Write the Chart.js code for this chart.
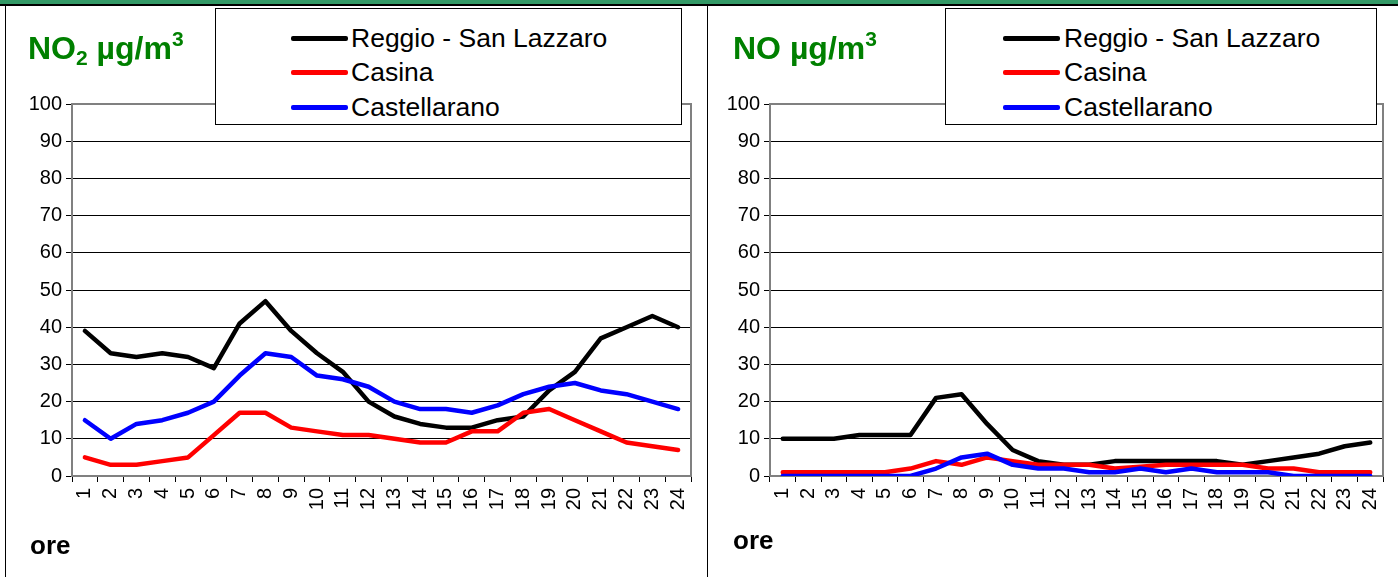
<!DOCTYPE html>
<html>
<head>
<meta charset="utf-8">
<script src="https://cdn.jsdelivr.net/npm/chart.js@4.4.1/dist/chart.umd.min.js"></script>
<style>
  html, body { margin:0; padding:0; background:#fff; }
  body { width:1398px; height:577px; position:relative; overflow:hidden; font-family:"Liberation Sans", Arial, sans-serif; }
  .abs { position:absolute; }
  canvas { position:absolute; top:0; }
  .title { font-weight:bold; font-size:32px; line-height:32px; color:#008000; white-space:nowrap; z-index:3; }
  .title .sub { position:relative; font-size:21px; top:6px; }
  .title .sup { position:relative; font-size:21px; top:-13px; }
  .ore { font-weight:bold; font-size:26px; line-height:26px; color:#000; z-index:3; }
  .legend { background:#fff; border:1px solid #000; z-index:3; box-sizing:border-box; }
  .lrow { position:absolute; height:30px; font-size:26.5px; line-height:30px; white-space:nowrap; color:#000; }
  .lline { position:absolute; height:5px; border-radius:2px; }
</style>
</head>
<body>
<div class="abs" style="left:0;top:0;width:1398px;height:4px;background:#339966;z-index:4"></div>
<div class="abs" style="left:0;top:4px;width:1398px;height:2px;background:#000;z-index:4"></div>
<div class="abs" style="left:5px;top:5px;width:1px;height:600px;background:#000;z-index:2"></div>
<div class="abs" style="left:707px;top:5px;width:1px;height:600px;background:#000;z-index:2"></div>

<canvas id="c1" width="707" height="577" style="left:0"></canvas>
<canvas id="c2" width="690" height="577" style="left:708px"></canvas>

<div class="abs title" style="left:28px;top:32px">NO<span class="sub">2</span> µg/m<span class="sup">3</span></div>
<div class="abs title" style="left:733px;top:32px">NO µg/m<span class="sup">3</span></div>
<div class="abs ore" style="left:30px;top:532px">ore</div>
<div class="abs ore" style="left:733px;top:527px">ore</div>

<div id="leg1" class="abs legend" style="left:215px;top:8px;width:467px;height:117px"></div>
<div id="leg2" class="abs legend" style="left:945px;top:8px;width:432px;height:117px"></div>

<script>
// ---- data ----
const hours = ['1','2','3','4','5','6','7','8','9','10','11','12','13','14','15','16','17','18','19','20','21','22','23','24'];
const seriesNames = ['Reggio - San Lazzaro', 'Casina', 'Castellarano'];
const seriesColors = ['#000000', '#ff0000', '#0000ff'];

// NO2 (µg/m3)
const no2Reggio = [39,33,32,33,32,29,41,47,39,33,28,20,16,14,13,13,15,16,23,28,37,40,43,40];
const no2Casina = [5,3,3,4,5,11,17,17,13,12,11,11,10,9,9,12,12,17,18,15,12,9,8,7];
const no2Castellarano = [15,10,14,15,17,20,27,33,32,27,26,24,20,18,18,17,19,22,24,25,23,22,20,18];

// NO (µg/m3)
const noReggio = [10,10,10,11,11,11,21,22,14,7,4,3,3,4,4,4,4,4,3,4,5,6,8,9];
const noCasina = [1,1,1,1,1,2,4,3,5,4,3,3,3,2,2.5,3,3,3,3,2,2,1,1,1];
const noCastellarano = [0,0,0,0,0,0,2,5,6,3,2,2,1,1,2,1,2,1,1,1,0,0,0,0];

const yTicksMin = 0, yTicksMax = 100, yTicksStep = 10;

// ---- legend (HTML) ----
function buildLegend(id, lineLeft, lineW, textLeft) {
  const el = document.getElementById(id);
  const rowsY = [14, 48, 83];
  seriesNames.forEach((n, i) => {
    const ln = document.createElement('div');
    ln.className = 'lline';
    ln.style.left = lineLeft + 'px';
    ln.style.width = lineW + 'px';
    ln.style.top = (rowsY[i] + 13) + 'px';
    ln.style.background = seriesColors[i];
    el.appendChild(ln);
    const t = document.createElement('div');
    t.className = 'lrow';
    t.style.left = textLeft + 'px';
    t.style.top = rowsY[i] + 'px';
    t.textContent = n;
    el.appendChild(t);
  });
}
buildLegend('leg1', 75, 57, 135);
buildLegend('leg2', 57, 57, 118);

// ---- charts ----
const plotBorder = {
  id: 'plotBorder',
  beforeDatasetsDraw(chart) {
    const a = chart.chartArea, ctx = chart.ctx;
    ctx.save();
    ctx.strokeStyle = '#808080';
    ctx.lineWidth = 2;
    ctx.beginPath();
    ctx.moveTo(a.left, a.top);
    ctx.lineTo(a.right, a.top);
    ctx.lineTo(a.right, a.bottom);
    ctx.stroke();
    ctx.restore();
  }
};

function makeChart(id, data, yWidth, padRight) {
  const ds = data.map((d, i) => ({
    label: seriesNames[i],
    data: d,
    borderColor: seriesColors[i],
    backgroundColor: seriesColors[i],
    borderWidth: 4.5,
    pointRadius: 0,
    tension: 0,
    fill: false,
    borderJoinStyle: 'round',
    borderCapStyle: 'round',
    order: 2 - i
  }));
  return new Chart(document.getElementById(id), {
    type: 'line',
    data: { labels: hours, datasets: ds },
    plugins: [plotBorder],
    options: {
      responsive: false,
      animation: false,
      devicePixelRatio: 1,
      layout: { padding: { left: 0, right: padRight, top: 104, bottom: 0 } },
      plugins: { legend: { display: false }, tooltip: { enabled: false } },
      scales: {
        x: {
          type: 'category',
          offset: true,
          afterFit: s => { s.height = 101; s.paddingLeft = 0; s.paddingRight = 0; },
          grid: { offset: true, drawOnChartArea: false, drawTicks: true, tickLength: 6, color: '#000', lineWidth: 1 },
          border: { display: true, color: '#808080', width: 2 },
          ticks: {
            autoSkip: false, minRotation: 90, maxRotation: 90, padding: 6,
            color: '#000', font: { family: '"Liberation Sans", Arial, sans-serif', size: 20 }
          }
        },
        y: {
          min: yTicksMin, max: yTicksMax,
          afterFit: s => { s.width = yWidth; },
          grid: { color: '#000', lineWidth: 1, tickLength: 6, drawTicks: true },
          border: { display: true, color: '#808080', width: 2 },
          ticks: {
            stepSize: yTicksStep, padding: 4, color: '#000',
            font: { family: '"Liberation Sans", Arial, sans-serif', size: 20 }
          }
        }
      }
    }
  });
}

makeChart('c1', [no2Reggio, no2Casina, no2Castellarano], 72, 16);
makeChart('c2', [noReggio, noCasina, noCastellarano], 62, 15);
</script>
</body>
</html>
